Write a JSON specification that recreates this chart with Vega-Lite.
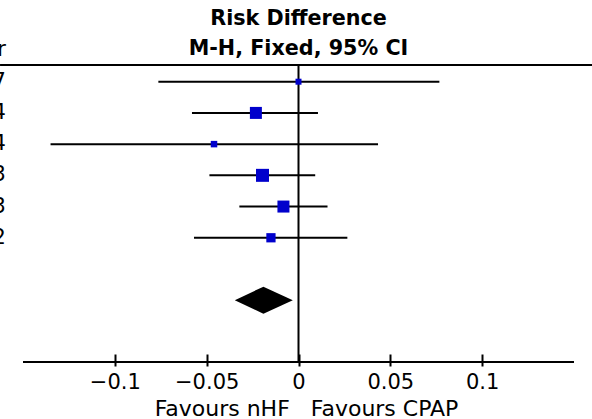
{
  "$schema": "https://vega.github.io/schema/vega-lite/v6.json",
  "width": 551,
  "height": 297,
  "autosize": {"type": "none"},
  "padding": {"left": 23, "top": 65, "right": 18, "bottom": 57},
  "background": "white",
  "config": {"view": {"stroke": null}, "font": "DejaVu Sans"},
  "title": {
    "text": ["Risk Difference", "M-H, Fixed, 95% CI"],
    "fontSize": 20.7,
    "fontWeight": "bold",
    "lineHeight": 30,
    "anchor": "middle",
    "frame": "group",
    "offset": 10,
    "dy": 30,
    "color": "black",
    "font": "DejaVu Sans"
  },
  "datasets": {
    "studies": [
      {"row": 1, "year": "2017", "rd": 0.0, "lo": -0.0763, "hi": 0.0767, "weight": 5.8},
      {"row": 2, "year": "2014", "rd": -0.0232, "lo": -0.058, "hi": 0.0106, "weight": 23.2},
      {"row": 3, "year": "2014", "rd": -0.046, "lo": -0.135, "hi": 0.0433, "weight": 6.8},
      {"row": 4, "year": "2013", "rd": -0.0196, "lo": -0.0485, "hi": 0.0091, "weight": 27.2},
      {"row": 5, "year": "2013", "rd": -0.0082, "lo": -0.0322, "hi": 0.0158, "weight": 23.2},
      {"row": 6, "year": "2012", "rd": -0.015, "lo": -0.0569, "hi": 0.0266, "weight": 13.8}
    ],
    "header": [{"row": 0, "year": "Year"}],
    "diamond": [
      {"x": -0.0347, "top": 8, "bottom": 8},
      {"x": -0.0191, "top": 7.567, "bottom": 8.433},
      {"x": -0.0031, "top": 8, "bottom": 8}
    ],
    "one": [{}]
  },
  "layer": [
    {
      "data": {"name": "studies"},
      "mark": {"type": "rule", "color": "black", "strokeWidth": 2},
      "encoding": {
        "x": {
          "field": "lo",
          "type": "quantitative",
          "scale": {"domain": [-0.15, 0.15], "nice": false},
          "axis": {
            "values": [-0.1, -0.05, 0, 0.05, 0.1],
            "format": "~g",
            "domain": false,
            "grid": false,
            "offset": -8,
            "tickSize": 12,
            "tickWidth": 2,
            "tickColor": "black",
            "labelFontSize": 21,
            "labelColor": "black",
            "labelFont": "DejaVu Sans",
            "labelPadding": 5,
            "labelFlush": false,
            "labelOverlap": false,
            "title": "Favours nHF\u00a0\u00a0\u00a0Favours CPAP",
            "titleFont": "DejaVu Sans",
            "titleFontSize": 22,
            "titleFontWeight": "normal",
            "titleColor": "black",
            "titleBaseline": "alphabetic",
            "titleY": 61,
            "titleX": 283
          }
        },
        "x2": {"field": "hi"},
        "y": {"field": "row", "type": "quantitative", "scale": {"domain": [0.465, 9.98], "reverse": true, "nice": false, "zero": false}, "axis": null}
      }
    },
    {
      "data": {"name": "one"},
      "mark": {"type": "rule", "color": "black", "strokeWidth": 2},
      "encoding": {
        "x": {"datum": 0, "type": "quantitative"},
        "y": {"datum": 0.465, "type": "quantitative", "axis": null},
        "y2": {"datum": 9.98}
      }
    },
    {
      "data": {"name": "one"},
      "mark": {"type": "rule", "color": "black", "strokeWidth": 2},
      "encoding": {
        "x": {"datum": -0.1625, "type": "quantitative"},
        "x2": {"datum": 0.16},
        "y": {"datum": 0.465, "type": "quantitative", "axis": null}
      }
    },
    {
      "data": {"name": "one"},
      "mark": {"type": "rule", "color": "black", "strokeWidth": 2},
      "encoding": {
        "x": {"datum": -0.15, "type": "quantitative"},
        "x2": {"datum": 0.15},
        "y": {"datum": 9.98, "type": "quantitative", "axis": null}
      }
    },
    {
      "data": {"name": "studies"},
      "mark": {"type": "point", "shape": "square", "filled": true, "color": "#0000cc", "opacity": 1},
      "encoding": {
        "x": {"field": "rd", "type": "quantitative"},
        "y": {"field": "row", "type": "quantitative", "axis": null},
        "size": {"field": "weight", "type": "quantitative", "scale": {"domain": [0, 100], "range": [0, 621]}, "legend": null}
      }
    },
    {
      "data": {"name": "diamond"},
      "mark": {"type": "area", "color": "black", "opacity": 1},
      "encoding": {
        "x": {"field": "x", "type": "quantitative"},
        "y": {"field": "top", "type": "quantitative", "axis": null},
        "y2": {"field": "bottom"}
      }
    },
    {
      "data": {"name": "studies"},
      "mark": {"type": "text", "align": "right", "baseline": "middle", "fontSize": 21, "color": "black", "font": "DejaVu Sans"},
      "encoding": {
        "x": {"datum": -0.1593, "type": "quantitative"},
        "y": {"field": "row", "type": "quantitative", "axis": null},
        "text": {"field": "year"}
      }
    },
    {
      "data": {"name": "header"},
      "mark": {"type": "text", "align": "right", "baseline": "middle", "fontSize": 21, "color": "black", "font": "DejaVu Sans"},
      "encoding": {
        "x": {"datum": -0.1593, "type": "quantitative"},
        "y": {"field": "row", "type": "quantitative", "axis": null},
        "text": {"field": "year"}
      }
    }
  ]
}
